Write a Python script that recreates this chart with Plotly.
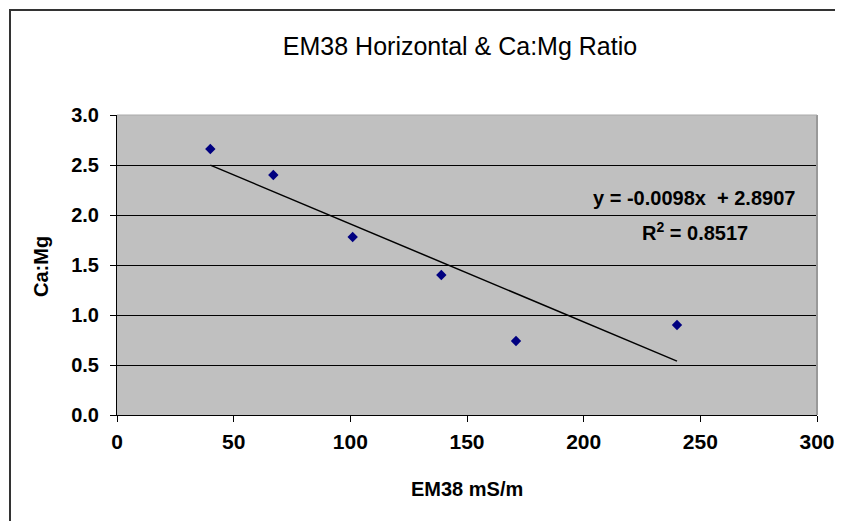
import plotly.graph_objects as go

em38 = [40, 67, 101, 139, 171, 240]
ca_mg = [2.66, 2.40, 1.78, 1.40, 0.74, 0.90]
slope = -0.0098
intercept = 2.8907
r2 = 0.8517
x_ticks = [0, 50, 100, 150, 200, 250, 300]
y_ticks = [0.0, 0.5, 1.0, 1.5, 2.0, 2.5, 3.0]

W, H = 843, 521
OFF = 8  # page body margin
L, R, T, B = 117 - OFF, 26 + OFF, 115 - OFF, 106 + OFF
pw, ph = W - L - R, H - T - B

def px(x):
    return (x - OFF - L) / pw

def py(y):
    return (H - B - (y - OFF)) / ph

fig = go.Figure()
tx = [min(em38), max(em38)]
ty = [slope * v + intercept for v in tx]
fig.add_trace(go.Scatter(x=tx, y=ty, mode="lines",
                         line=dict(color="black", width=1.5), hoverinfo="skip"))
fig.add_trace(go.Scatter(x=em38, y=ca_mg, mode="markers",
                         marker=dict(symbol="diamond", size=8, color="#000080")))

font = "Liberation Sans, Arial, sans-serif"
fig.update_layout(
    width=W, height=H, showlegend=False,
    margin=dict(l=L, r=R, t=T, b=B),
    paper_bgcolor="white", plot_bgcolor="#C0C0C0",
    title=dict(text="EM38 Horizontal &amp; Ca:Mg Ratio", xref="paper", x=px(460), xanchor="center",
               yref="container", y=1 - (46 - OFF) / H, yanchor="middle",
               font=dict(family=font, size=25, color="black")),
    xaxis=dict(range=[0, 300], tickvals=x_ticks, ticktext=[str(v) for v in x_ticks],
               showgrid=False, zeroline=False, showline=True, linecolor="black", linewidth=1,
               ticks="outside", ticklen=6, tickcolor="black", ticklabelstandoff=2,
               tickfont=dict(family=font, size=21, color="black", weight="bold")),
    yaxis=dict(range=[0, 3], tickvals=y_ticks, ticktext=[f"{v:.1f}" for v in y_ticks],
               showgrid=True, gridcolor="black", gridwidth=1, zeroline=False,
               showline=True, linecolor="black", linewidth=1,
               ticks="outside", ticklen=6, tickcolor="black", ticklabelstandoff=7,
               tickfont=dict(family=font, size=20, color="black", weight="bold")),
    shapes=[
        dict(type="rect", xref="paper", yref="paper", x0=px(10), x1=px(W + 40), y0=py(H + 40), y1=py(10),
             line=dict(color="#333333", width=2), fillcolor="rgba(0,0,0,0)", layer="above"),
        dict(type="line", xref="paper", yref="paper", x0=1, x1=1, y0=0, y1=1,
             line=dict(color="#999999", width=2)),
        dict(type="line", xref="paper", yref="paper", x0=0, x1=1, y0=1, y1=1,
             line=dict(color="#AAAAAA", width=1)),
    ],
    annotations=[
        dict(text="<b>y = -0.0098x  + 2.8907</b>", xref="paper", yref="paper",
             x=px(694), y=py(198), showarrow=False, xanchor="center", yanchor="middle",
             font=dict(family=font, size=20, color="black")),
        dict(text="<b>R<sup>2</sup> = 0.8517</b>", xref="paper", yref="paper",
             x=px(695), y=py(231), showarrow=False, xanchor="center", yanchor="middle",
             font=dict(family=font, size=20, color="black")),
        dict(text="<b>EM38 mS/m</b>", xref="paper", yref="paper",
             x=px(467), y=py(489), showarrow=False, xanchor="center", yanchor="middle",
             font=dict(family=font, size=20, color="black")),
        dict(text="<b>Ca:Mg</b>", xref="paper", yref="paper", textangle=-90,
             x=px(41), y=py(267), showarrow=False, xanchor="center", yanchor="middle",
             font=dict(family=font, size=20, color="black")),
    ],
)
fig.write_html("out.html")
